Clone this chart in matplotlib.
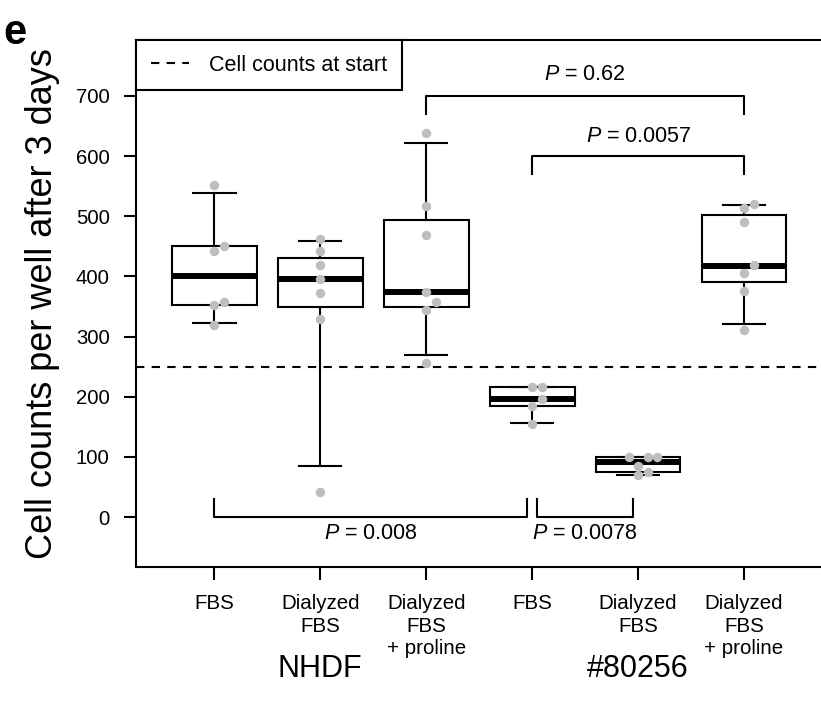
import numpy as np
import matplotlib.pyplot as plt
from matplotlib.lines import Line2D

plt.rcParams['font.family'] = ['Liberation Sans', 'DejaVu Sans']
plt.rcParams['mathtext.fontset'] = 'custom'
plt.rcParams['mathtext.it'] = 'Liberation Sans:italic'
plt.rcParams['mathtext.rm'] = 'Liberation Sans'

# Conditions (x = 1..6)
tick_labels = ['FBS', 'Dialyzed\nFBS', 'Dialyzed\nFBS\n+ proline',
               'FBS', 'Dialyzed\nFBS', 'Dialyzed\nFBS\n+ proline']
group_names = ['NHDF', '#80256']
group_centers = [2, 5]

# Box statistics
whis_low = [323, 84, 269, 157, 70, 321]
q1 = [353, 350, 350, 184, 75, 391]
medians = [400, 396, 374, 197, 92, 418]
q3 = [450, 431, 494, 216, 99, 502]
whis_high = [539, 459, 622, 216, 99, 519]

# Individual wells
points = [
    [552, 450, 442, 357, 353, 319],
    [462, 442, 419, 396, 372, 329, 41],
    [639, 517, 469, 374, 357, 345, 256],
    [216, 216, 197, 184, 155],
    [99, 99, 99, 85, 75, 70],
    [521, 513, 491, 419, 406, 376, 311],
]

start_count = 250

# Comparisons: (x left, x right, bracket level, tick direction, label, label x, label y)
brackets = [
    (1, 3.955, 0, 1, '$P$ = 0.008', 2.48, -27),
    (4.05, 4.95, 0, 1, '$P$ = 0.0078', 4.5, -27),
    (3, 6, 700, -1, '$P$ = 0.62', 4.5, 735),
    (4, 6, 600, -1, '$P$ = 0.0057', 5, 633),
]

fig = plt.figure(figsize=(8.21, 7.08), dpi=100)
ax = fig.add_axes([136 / 821, (708 - 566.7) / 708, (822.4 - 136) / 821, (566.7 - 40) / 708])
ax.set_xlim(0.26, 6.74)
ax.set_ylim(-82.6, 793.1)

positions = np.arange(1, 7)
stats = []
for i in range(6):
    stats.append({'whislo': whis_low[i], 'q1': q1[i], 'med': medians[i],
                  'q3': q3[i], 'whishi': whis_high[i], 'fliers': []})

ax.axhline(start_count, color='black', lw=1.5, ls=(0, (4, 3.5)), zorder=1)

ax.bxp(stats, positions=positions, widths=0.8, capwidths=0.4, patch_artist=True,
       showfliers=False, manage_ticks=False,
       boxprops=dict(facecolor='white', edgecolor='black', linewidth=1.5),
       medianprops=dict(color='black', linewidth=4.3, solid_capstyle='butt'),
       whiskerprops=dict(color='black', linewidth=1.5),
       capprops=dict(color='black', linewidth=1.5))


def swarm_x(xc, ys, step_px=9.5, min_px=8.5):
    # simple beeswarm: put each point at the centre, or beside it if it overlaps
    tr = ax.transData
    order = np.argsort(ys, kind='stable')
    placed = []
    xs = np.zeros(len(ys))
    for i in order:
        base = tr.transform((xc, ys[i]))
        for k in [0, 1, -1, 2, -2, 3, -3]:
            cand = (base[0] + k * step_px, base[1])
            if all(np.hypot(cand[0] - p[0], cand[1] - p[1]) >= min_px for p in placed):
                break
        placed.append(cand)
        xs[i] = tr.inverted().transform(cand)[0]
    return xs


for i, ys in enumerate(points):
    xs = swarm_x(positions[i], ys)
    ax.plot(xs, ys, 'o', color='#bebebe', markersize=6.8, markeredgewidth=0, zorder=5)

for x1, x2, lev, d, label, tx, ty in brackets:
    ax.plot([x1, x1, x2, x2], [lev + d * 30, lev, lev, lev + d * 30], color='black', lw=1.5)
    ax.text(tx, ty, label, ha='center', va='center', fontsize=15.5)

ax.set_xticks(positions)
ax.set_xticklabels(tick_labels, fontsize=14.8, linespacing=1.22)
ax.set_yticks(np.arange(0, 701, 100))
ax.set_yticklabels([str(v) for v in range(0, 701, 100)], fontsize=14.6)
ax.tick_params(axis='y', length=9, width=1.5, pad=10)
ax.tick_params(axis='x', length=9, width=1.5, pad=11)
for s in ax.spines.values():
    s.set_linewidth(1.5)

leg = ax.legend(handles=[Line2D([], [], color='black', lw=1.5, ls=(0, (4, 3.5)))],
                labels=['Cell counts at start'], loc='upper left', bbox_to_anchor=(0, 1),
                borderaxespad=0, fancybox=False, edgecolor='black', framealpha=1,
                fontsize=15.5, handlelength=1.8, handletextpad=0.9, borderpad=0.68)
leg.get_frame().set_linewidth(1.5)

for name, gx in zip(group_names, group_centers):
    px = ax.transData.transform((gx, 0))[0] / 821
    fig.text(px, 1 - 669 / 708, name, ha='center', va='center', fontsize=22)

fig.text(43 / 821, 1 - 303.5 / 708, 'Cell counts per well after 3 days',
         rotation=90, ha='center', va='center', fontsize=26)
fig.text(15 / 821, 1 - 33 / 708, 'e', ha='center', va='center', fontsize=30, fontweight='bold')

plt.savefig('out.png', dpi=100)
